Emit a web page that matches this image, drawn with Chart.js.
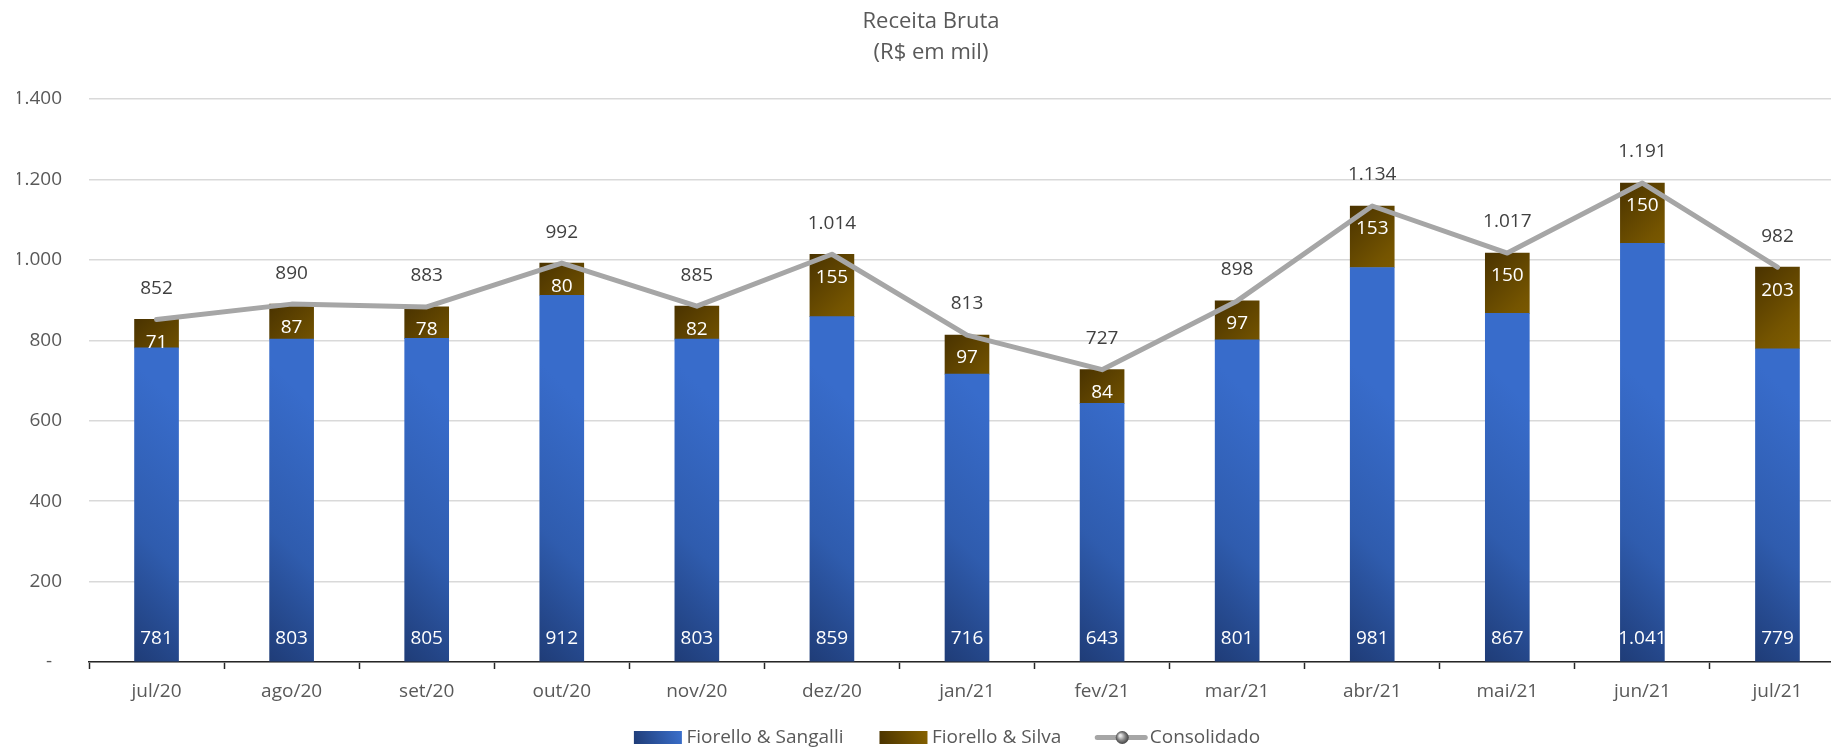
<!DOCTYPE html>
<html lang="pt-BR">
<head>
<meta charset="utf-8">
<title>Receita Bruta</title>
<script src="https://cdn.jsdelivr.net/npm/chart.js@4.4.1/dist/chart.umd.min.js"></script>
<style>
  html, body { margin: 0; padding: 0; background: #fff; overflow: hidden; }
  #wrap { width: 1845px; height: 747px; }
</style>
</head>
<body>
<div id="wrap"><canvas id="receitaChart" width="1845" height="747"></canvas></div>
<script>
// --- data (R$ em mil) ---
const months = ['jul/20', 'ago/20', 'set/20', 'out/20', 'nov/20', 'dez/20', 'jan/21',
  'fev/21', 'mar/21', 'abr/21', 'mai/21', 'jun/21', 'jul/21'];
const sangalli = [781, 803, 805, 912, 803, 859, 716, 643, 801, 981, 867, 1041, 779];
const silva = [71, 87, 78, 80, 82, 155, 97, 84, 97, 153, 150, 150, 203];
const consolidado = [852, 890, 883, 992, 885, 1014, 813, 727, 898, 1134, 1017, 1191, 982];
const yMax = 1400;
const yStep = 200;

const BAR_W = 44;
const FONT = '"Open Sans", "Noto Sans", sans-serif';
const TEXT_GRAY = '#595959';

// 1.014 style thousands
function fmt(v) {
  return String(v).replace(/\B(?=(\d{3})+(?!\d))/g, '.');
}

function ok(...nums) {
  return nums.every(n => Number.isFinite(n));
}

// diagonal gradient per bar, dark at bottom-left
function blueFill(ctx) {
  const chart = ctx.chart;
  const xs = chart.scales.x, ys = chart.scales.y;
  if (!xs || !ys || ctx.dataIndex === undefined) return '#3366c4';
  const left = xs.getPixelForValue(ctx.dataIndex) - BAR_W / 2;
  const bottom = ys.getPixelForValue(0);
  if (!ok(left, bottom)) return '#3366c4';
  const g = chart.ctx.createLinearGradient(left, bottom, left + 150, bottom - 150);
  g.addColorStop(0, '#1f3c77');
  g.addColorStop(0.45, '#2f5cae');
  g.addColorStop(1, '#386ccb');
  return g;
}

// brown segment, dark at top-left
function brownFill(ctx) {
  const chart = ctx.chart;
  const xs = chart.scales.x, ys = chart.scales.y;
  if (!xs || !ys || ctx.dataIndex === undefined) return '#7a5a00';
  const i = ctx.dataIndex;
  const left = xs.getPixelForValue(i) - BAR_W / 2;
  const top = ys.getPixelForValue(sangalli[i] + silva[i]);
  if (!ok(left, top)) return '#7a5a00';
  const g = chart.ctx.createLinearGradient(left, top, left + 70, top + 70);
  g.addColorStop(0, '#4a3300');
  g.addColorStop(0.6, '#745400');
  g.addColorStop(1, '#866200');
  return g;
}

// value labels (the library core has no datalabels)
const valueLabels = {
  id: 'valueLabels',
  afterDatasetsDraw(chart) {
    const c = chart.ctx;
    c.save();
    c.textAlign = 'center';
    c.textBaseline = 'middle';
    c.font = '19px ' + FONT;
    c.fillStyle = '#ffffff';
    chart.getDatasetMeta(0).data.forEach((bar, i) => {
      c.fillText(fmt(sangalli[i]), bar.x, bar.base - 23);
    });
    chart.getDatasetMeta(1).data.forEach((bar, i) => {
      c.fillText(fmt(silva[i]), bar.x, bar.y + 23);
    });
    c.fillStyle = '#404040';
    chart.getDatasetMeta(2).data.forEach((pt, i) => {
      c.fillText(fmt(consolidado[i]), pt.x, pt.y - 31);
    });
    c.restore();
  }
};

// nudge the legend row to where Excel put it, and let the x labels
// draw below the short x-axis box (labels are clipped to the scale box)
const layoutNudge = {
  id: 'layoutNudge',
  afterLayout(chart) {
    const lg = chart.legend;
    if (lg) {
      lg.left += 16; lg.right += 16;
      lg.top += 10; lg.bottom += 10;
    }
    const xs = chart.scales.x;
    if (xs) {
      xs.bottom = chart.height;
      xs.height = xs.bottom - xs.top;
    }
  }
};

// legend symbols: gradient boxes and the line with a ball
const legendSymbols = {
  id: 'legendSymbols',
  afterDraw(chart) {
    const legend = chart.legend;
    if (!legend || !legend.legendHitBoxes) return;
    const c = chart.ctx;
    legend.legendItems.forEach((item, i) => {
      const hb = legend.legendHitBoxes[i];
      if (!hb) return;
      const cy = hb.top + hb.height / 2;
      const x0 = hb.left;
      c.save();
      if (item.datasetIndex === 2) {
        c.strokeStyle = '#a6a6a6';
        c.lineWidth = 5;
        c.lineCap = 'round';
        c.beginPath();
        c.moveTo(x0, cy);
        c.lineTo(x0 + 48, cy);
        c.stroke();
        const bx = x0 + 25;
        const rg = c.createRadialGradient(bx - 2, cy - 2, 1, bx, cy, 7);
        rg.addColorStop(0, '#e6e6e6');
        rg.addColorStop(0.5, '#858585');
        rg.addColorStop(1, '#383838');
        c.fillStyle = rg;
        c.beginPath();
        c.arc(bx, cy, 6.5, 0, Math.PI * 2);
        c.fill();
      } else {
        const top = cy - 6.5;
        const g = c.createLinearGradient(x0, top + 13, x0 + 48, top);
        if (item.datasetIndex === 0) {
          g.addColorStop(0, '#1f3c77');
          g.addColorStop(1, '#3a6fcc');
        } else {
          g.addColorStop(0, '#4a3300');
          g.addColorStop(1, '#866200');
        }
        c.fillStyle = g;
        c.fillRect(x0, top, 48, 13);
      }
      c.restore();
    });
  }
};

const ctx = document.getElementById('receitaChart').getContext('2d');

new Chart(ctx, {
  data: {
    labels: months,
    datasets: [
      {
        type: 'bar',
        label: 'Fiorello & Sangalli',
        data: sangalli,
        backgroundColor: blueFill,
        barThickness: BAR_W,
        stack: 'receita',
        order: 2
      },
      {
        type: 'bar',
        label: 'Fiorello & Silva',
        data: silva,
        backgroundColor: brownFill,
        barThickness: BAR_W,
        stack: 'receita',
        order: 2
      },
      {
        type: 'line',
        label: 'Consolidado',
        data: consolidado,
        borderColor: '#a6a6a6',
        backgroundColor: '#a6a6a6',
        borderWidth: 5,
        borderCapStyle: 'round',
        borderJoinStyle: 'round',
        pointRadius: 0,
        tension: 0,
        fill: false,
        stack: 'total',
        order: 1
      }
    ]
  },
  options: {
    responsive: false,
    animation: false,
    layout: { padding: { left: 17, right: 0, top: 0, bottom: 0 } },
    plugins: {
      tooltip: { enabled: false },
      title: {
        display: true,
        text: ['Receita Bruta', '(R$ em mil)'],
        color: TEXT_GRAY,
        font: { family: FONT, size: 22, weight: 'normal', lineHeight: 1.41 },
        padding: { top: 6.5, bottom: 30.5 }
      },
      legend: {
        position: 'bottom',
        labels: {
          color: TEXT_GRAY,
          font: { family: FONT, size: 19 },
          boxWidth: 43,
          boxHeight: 13,
          padding: 36,
          sort: (a, b) => a.datasetIndex - b.datasetIndex,
          generateLabels(chart) {
            const items = Chart.defaults.plugins.legend.labels.generateLabels(chart);
            items.forEach(it => {
              it.fillStyle = 'rgba(0,0,0,0)';
              it.strokeStyle = 'rgba(0,0,0,0)';
              it.lineWidth = 0;
            });
            return items;
          }
        }
      }
    },
    scales: {
      x: {
        stacked: true,
        afterFit(scale) { scale.height = 20; },
        grid: {
          display: true,
          drawOnChartArea: false,
          drawTicks: true,
          tickLength: 7,
          tickColor: '#262626',
          tickWidth: 1.5,
          offset: true
        },
        border: { display: true, color: '#262626', width: 1.5 },
        ticks: { color: TEXT_GRAY, font: { family: FONT, size: 19 }, padding: 11, autoSkip: false, maxRotation: 0 }
      },
      y: {
        stacked: true,
        min: 0,
        max: yMax,
        afterFit(scale) { scale.width = 72; },
        grid: { color: '#d9d9d9', lineWidth: 1.5, drawTicks: false },
        border: { display: false },
        ticks: {
          stepSize: yStep,
          color: TEXT_GRAY,
          font: { family: FONT, size: 19 },
          padding: 27,
          callback: v => (v === 0 ? '-  ' : fmt(v))
        }
      }
    }
  },
  plugins: [valueLabels, layoutNudge, legendSymbols]
});
</script>
</body>
</html>
